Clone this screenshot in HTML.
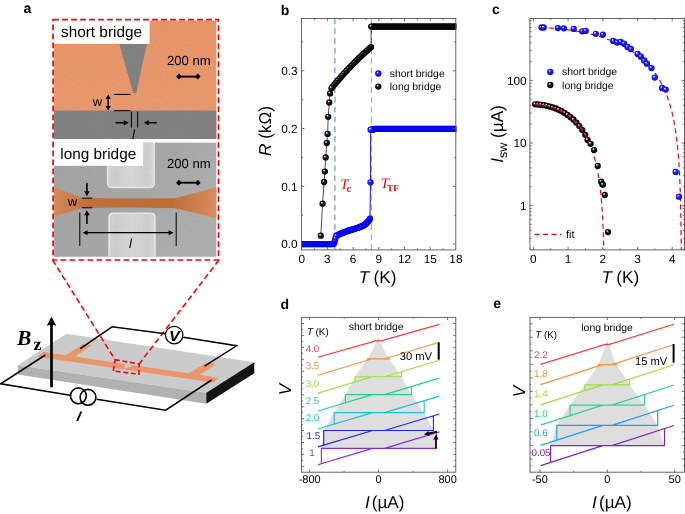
<!DOCTYPE html>
<html lang="en"><head><meta charset="utf-8"><title>Figure 1</title>
<style>
html,body{margin:0;padding:0;background:#fff;}
body{width:685px;height:514px;overflow:hidden;}
svg{display:block;}
text{font-family:'Liberation Sans',Arial,sans-serif;fill:#000;text-rendering:geometricPrecision;}
.ser{font-family:'Liberation Serif','Times New Roman',serif;}
.ax{stroke:#555;stroke-width:0.9;fill:none;}
.tk{stroke:#4a4a4a;stroke-width:0.8;fill:none;}
</style></head><body>
<svg width="685" height="514" viewBox="0 0 685 514">
<defs>
<radialGradient id="gb" cx="0.5" cy="0.5" r="0.5" fx="0.34" fy="0.3"><stop offset="0" stop-color="#ffffff"/><stop offset="0.18" stop-color="#b4b4ff"/><stop offset="0.36" stop-color="#2828ff"/><stop offset="1" stop-color="#0000f0"/></radialGradient>
<radialGradient id="gk" cx="0.5" cy="0.5" r="0.5" fx="0.34" fy="0.3"><stop offset="0" stop-color="#ffffff"/><stop offset="0.18" stop-color="#b0b0b0"/><stop offset="0.4" stop-color="#1c1c1c"/><stop offset="1" stop-color="#000"/></radialGradient>
<circle id="mb" r="3.15" fill="url(#gb)"/>
<circle id="mk" r="3.15" fill="url(#gk)"/>
<filter id="noise" x="0" y="0" width="100%" height="100%"><feTurbulence type="fractalNoise" baseFrequency="0.8" numOctaves="2" seed="3" result="n"/><feColorMatrix in="n" type="matrix" values="0 0 0 0 0  0 0 0 0 0  0 0 0 0 0  0.6 0.6 0 0 -0.42" result="a"/><feComposite in="a" in2="SourceGraphic" operator="in"/></filter>
<filter id="soft" x="-5%" y="-5%" width="110%" height="110%"><feGaussianBlur stdDeviation="0.7"/></filter>
<linearGradient id="gate" x1="0" x2="1" y1="0" y2="0"><stop offset="0" stop-color="#dadada"/><stop offset="0.15" stop-color="#d2d2d2"/><stop offset="0.5" stop-color="#dcdcdc"/><stop offset="0.85" stop-color="#d3d3d3"/><stop offset="1" stop-color="#dcdcdc"/></linearGradient>
<linearGradient id="bgl" x1="0" x2="1" y1="0" y2="0.4"><stop offset="0" stop-color="#a6a6a6"/><stop offset="0.6" stop-color="#ababab"/><stop offset="1" stop-color="#b2b2b2"/></linearGradient>
<linearGradient id="brg" x1="0" x2="1" y1="0" y2="0"><stop offset="0" stop-color="#dc8e5e"/><stop offset="0.22" stop-color="#c4733d"/><stop offset="0.72" stop-color="#c2713b"/><stop offset="1" stop-color="#de9263"/></linearGradient>
<linearGradient id="org" x1="0" x2="0" y1="0" y2="1"><stop offset="0" stop-color="#ec986b"/><stop offset="1" stop-color="#ee9d72"/></linearGradient>
<clipPath id="semclip"><rect x="53.8" y="20.4" width="162.7" height="236.3"/></clipPath>
</defs>
<rect width="685" height="514" fill="#fff"/>

<g id="panel-a">
<text x="23.6" y="13.2" font-size="14.2" font-weight="bold">a</text>
<g clip-path="url(#semclip)">
<rect x="53.6" y="20" width="163" height="119" fill="url(#org)"/>
<rect x="53.6" y="110.5" width="163" height="28.5" fill="#858585"/>
<path d="M119.2 43.8H146.8L136.6 91.5Q134.7 95.5 132.8 91.5Z" fill="#858585"/>
<rect x="53.6" y="142.4" width="163" height="115" fill="url(#bgl)"/>
<g filter="url(#soft)"><path d="M107.6 140H154.2V183Q154.2 187.6 149.5 187.6H112.3Q107.6 187.6 107.6 183Z" fill="url(#gate)" stroke="#ededed" stroke-width="1.5"/>
<path d="M109 260V217.5Q109 213.2 113.5 213.2H150.5Q155 213.2 155 217.5V260Z" fill="url(#gate)" stroke="#ededed" stroke-width="1.5"/></g>
<path d="M53.6 186.9 L81.4 198 L128 198.4 L175.4 198.2 L216.6 186.9 V218 L175.4 208.2 L128 207.6 L81.4 207.9 L53.6 217 Z" fill="url(#brg)"/>
<rect x="53.6" y="20" width="163" height="237" fill="#000" filter="url(#noise)" opacity="0.07"/>
<rect x="53.6" y="20" width="163" height="237" fill="#fff" filter="url(#noise)" opacity="0.08" transform="translate(1.5,1)"/>
<rect x="53.6" y="139" width="163" height="3.4" fill="#fff"/>
</g>
<rect x="53.6" y="20" width="96" height="23.9" fill="#fff"/>
<text x="61" y="37" font-size="15.35">short bridge</text>
<text x="167" y="65.3" font-size="13.1">200 nm</text>
<path d="M178.1 76.6H198.6" stroke="#000" stroke-width="1.9"/><polygon points="176.1,76.6 178.9,73.6 181.7,76.6 178.9,79.6" fill="#000"/><polygon points="200.6,76.6 197.8,73.6 195,76.6 197.8,79.6" fill="#000"/>
<path d="M113.9 94.4H130.4 M113.9 110.7H130.4" stroke="#000" stroke-width="1" fill="none"/>
<path d="M108.2 97V108" stroke="#000" stroke-width="1.6" fill="none"/>
<polygon points="108.2,94.5 110.8,99.1 105.6,99.1" fill="#000"/><polygon points="108.2,110.5 105.6,105.9 110.8,105.9" fill="#000"/>
<text x="92.7" y="106.4" font-size="13">w</text>
<path d="M131.4 111.5V127.6 M137.7 111.5V127.6" stroke="#000" stroke-width="1"/>
<path d="M115.5 122.7H125" stroke="#000" stroke-width="1.6"/><polygon points="128.6,122.7 123.8,125.3 123.8,120.1" fill="#000"/>
<path d="M156.9 122.7H147.5" stroke="#000" stroke-width="1.6"/><polygon points="143.9,122.7 148.7,120.1 148.7,125.3" fill="#000"/>
<text x="132" y="138.9" font-size="13" font-style="italic">l</text>
<rect x="53.6" y="142.4" width="89.5" height="23.4" fill="#fff"/>
<text x="60.3" y="158.9" font-size="15.35">long bridge</text>
<text x="167" y="168.4" font-size="13.1">200 nm</text>
<path d="M178.1 182.7H198.6" stroke="#000" stroke-width="1.9"/><polygon points="176.1,182.7 178.9,179.7 181.7,182.7 178.9,185.7" fill="#000"/><polygon points="200.6,182.7 197.8,179.7 195,182.7 197.8,185.7" fill="#000"/>
<path d="M81.8 198.1H92.3 M81.8 207.8H92.3" stroke="#000" stroke-width="1"/>
<path d="M86.9 183V192" stroke="#000" stroke-width="1.6"/><polygon points="86.9,196.2 84.1,191.2 89.7,191.2" fill="#000"/>
<path d="M86.9 224V215" stroke="#000" stroke-width="1.6"/><polygon points="86.9,210.2 89.7,215.2 84.1,215.2" fill="#000"/>
<text x="67.8" y="206.3" font-size="13">w</text>
<path d="M79.8 212.5V246 M176.2 212.5V246" stroke="#000" stroke-width="1"/>
<path d="M85 232.7H171" stroke="#000" stroke-width="1.2"/>
<polygon points="82.6,232.7 87.6,230.2 87.6,235.2" fill="#000"/><polygon points="173.6,232.7 168.6,235.2 168.6,230.2" fill="#000"/>
<text x="129" y="247.6" font-size="13" font-style="italic">l</text>
<rect x="53.1" y="19.6" width="165.4" height="240.4" fill="none" stroke="#fb0008" stroke-width="1.7" stroke-dasharray="5.8 3.2"/>
</g>
<g id="schematic">
<polygon points="66.4,333.8 254.3,362.3 206.3,392.7 17.8,365.2" fill="#cbcbcb"/>
<polygon points="17.8,365.2 206.3,392.7 206.3,403.7 17.8,374.4" fill="#b1b1b1"/>
<polygon points="206.3,392.7 254.3,362.3 254.3,373.2 206.3,403.7" fill="#141414"/>
<polygon points="43.8,352.11 218.6,377.64 213.8,382.53 37.2,356.75" fill="#e8966a"/>
<polygon points="65,355.51 83.2,343.9 92,345 74.5,356.9" fill="#e8966a"/>
<polygon points="188.5,373.54 206.4,362.8 216.2,364 199.4,375.13" fill="#e8966a"/>
<polygon points="125.5,363.74 134.2,365.01 124.6,369.01 124,368.72" fill="#cbcbcb"/>
<path d="M52.6 260 L115 359.6 M219 260 L139.1 364" stroke="#fb0008" stroke-width="1.6" stroke-dasharray="5.8 3.2" fill="none"/>
<path d="M115 359.6 L139.1 364 L139 374.2 L113.3 371 Z" fill="none" stroke="#fb0008" stroke-width="1.6" stroke-dasharray="5 2.6"/>
<path d="M45.3 355 L0.7 383.8 L70.2 395.2 M96.6 399.3 L165.7 410.2 L211.6 380" stroke="#000" stroke-width="1.55" fill="none" stroke-linejoin="miter"/>
<path d="M80.3 348.7 L112.1 326.8 L165.4 333.8 M183.2 337.2 L236.6 345.8 L204.5 366.2" stroke="#000" stroke-width="1.55" fill="none"/>
<circle cx="174.2" cy="335.1" r="8.7" fill="#fff" stroke="#000" stroke-width="1.2"/>
<text transform="translate(174.4,340.9) scale(1.1,1)" font-size="14.6" font-weight="bold" font-style="italic" text-anchor="middle">V</text>
<circle cx="78.4" cy="395.8" r="7.9" fill="#fff" stroke="#000" stroke-width="1.6"/>
<circle cx="88" cy="397.3" r="7.9" fill="none" stroke="#000" stroke-width="1.6"/>
<text transform="translate(75.3,420.6) skewX(-23)" font-size="14" font-weight="bold">I</text>
<path d="M51.5 387.3V324" stroke="#000" stroke-width="2.7"/>
<path d="M51.5 316.7 L56.3 325.8 Q51.5 323.6 46.7 325.8 Z" fill="#000"/>
<text class="ser" x="17" y="345" font-size="21.5" font-weight="bold" font-style="italic">B</text>
<text class="ser" x="33.4" y="349.7" font-size="18" font-weight="bold">z</text>
</g>
<g id="panel-b">
<text x="280.8" y="15" font-size="14" font-weight="bold">b</text>
<clipPath id="cb"><rect x="301.5" y="16.5" width="154.7" height="235.4"/></clipPath>
<path d="M334.9 18.5V249.9" stroke="#6499d6" stroke-width="1.2" stroke-dasharray="5.8 4" fill="none"/>
<path d="M371.4 18.5V249.9" stroke="#4a90d9" stroke-width="0.75" stroke-dasharray="5.8 4" fill="none"/>
<g clip-path="url(#cb)">
<polyline points="320.8,235.7 322.6,203.7 324.1,182 324.9,171.6 325.7,157.4 326.8,143 327.6,133.9 328.2,116.8 329.3,102.4 330.1,93.4 331.5,88.2 333.02,86.35 334.54,84.52 336.06,82.72 337.58,80.93 339.1,79.17 340.62,77.43 342.13,75.71 343.65,74.01 345.17,72.34 346.69,70.68 348.21,69.05 349.73,67.44 351.25,65.86 352.77,64.29 354.29,62.74 355.81,61.22 357.33,59.72 358.85,58.24 360.37,56.79 361.88,55.35 363.4,53.94 364.92,52.55 366.44,51.18 367.96,49.83 369.48,48.5 371,47.2 371.2,26.6 372.2,26.6 373.2,26.6 374.2,26.6 375.2,26.6 376.2,26.6 377.2,26.6 378.2,26.6 379.2,26.6 380.2,26.6 381.2,26.6 382.2,26.6 383.2,26.6 384.2,26.6 385.2,26.6 386.2,26.6 387.2,26.6 388.2,26.6 389.2,26.6 390.2,26.6 391.2,26.6 392.2,26.6 393.2,26.6 394.2,26.6 395.2,26.6 396.2,26.6 397.2,26.6 398.2,26.6 399.2,26.6 400.2,26.6 401.2,26.6 402.2,26.6 403.2,26.6 404.2,26.6 405.2,26.6 406.2,26.6 407.2,26.6 408.2,26.6 409.2,26.6 410.2,26.6 411.2,26.6 412.2,26.6 413.2,26.6 414.2,26.6 415.2,26.6 416.2,26.6 417.2,26.6 418.2,26.6 419.2,26.6 420.2,26.6 421.2,26.6 422.2,26.6 423.2,26.6 424.2,26.6 425.2,26.6 426.2,26.6 427.2,26.6 428.2,26.6 429.2,26.6 430.2,26.6 431.2,26.6 432.2,26.6 433.2,26.6 434.2,26.6 435.2,26.6 436.2,26.6 437.2,26.6 438.2,26.6 439.2,26.6 440.2,26.6 441.2,26.6 442.2,26.6 443.2,26.6 444.2,26.6 445.2,26.6 446.2,26.6 447.2,26.6 448.2,26.6 449.2,26.6 450.2,26.6 451.2,26.6 452.2,26.6 453.2,26.6 454.2,26.6 455.2,26.6 456.2,26.6 457.2,26.6" fill="none" stroke="#000" stroke-width="0.7"/>
<polyline points="299,244.1 299.9,244.1 300.8,244.1 301.7,244.1 302.6,244.1 303.5,244.1 304.4,244.1 305.3,244.1 306.2,244.1 307.1,244.1 308,244.1 308.9,244.1 309.8,244.1 310.7,244.1 311.6,244.1 312.5,244.1 313.4,244.1 314.3,244.1 315.2,244.1 316.1,244.1 317,244.1 317.9,244.1 318.8,244.1 319.7,244.1 320.6,244.1 321.5,244.1 322.4,244.1 323.3,244.1 324.2,244.1 325.1,244.1 326,244.1 326.9,244.1 327.8,244.1 328.7,244.1 329.6,244.1 330.5,244.1 331.4,244.1 332.3,244.1 333.2,244.1 334,243.4 334.7,241.6 335.3,239 336.1,236.2 336.87,235.52 337.64,235.06 338.41,234.65 339.18,234.28 339.95,233.93 340.72,233.6 341.49,233.28 342.26,232.97 343.03,232.67 343.8,232.38 344.58,232.1 345.35,231.82 346.12,231.55 346.89,231.29 347.66,231.02 348.43,230.77 349.2,230.51 349.97,230.26 350.74,230.02 351.51,229.77 352.28,229.53 353.05,229.29 353.82,229.05 354.59,228.81 355.36,228.57 356.13,228.33 356.9,228.08 357.67,227.83 358.44,227.57 359.21,227.31 359.98,227.02 360.75,226.72 361.52,226.4 362.3,226.05 363.07,225.66 363.84,225.23 364.61,224.75 365.38,224.2 366.15,223.58 366.92,222.86 367.69,222.02 368.46,221.05 369.23,219.92 370,218.6 370.5,182.3 370.6,129.7 371.5,129.7 372.4,129.7 373.3,129.7 374.2,128.9 375.1,128.9 376,128.9 376.9,128.9 377.8,128.9 378.7,128.9 379.6,128.9 380.5,128.9 381.4,128.9 382.3,128.9 383.2,128.9 384.1,128.9 385,128.9 385.9,128.9 386.8,128.9 387.7,128.9 388.6,128.9 389.5,128.9 390.4,128.9 391.3,128.9 392.2,128.9 393.1,128.9 394,128.9 394.9,128.9 395.8,128.9 396.7,128.9 397.6,128.9 398.5,128.9 399.4,128.9 400.3,128.9 401.2,128.9 402.1,128.9 403,128.9 403.9,128.9 404.8,128.9 405.7,128.9 406.6,128.9 407.5,128.9 408.4,128.9 409.3,128.9 410.2,128.9 411.1,128.9 412,128.9 412.9,128.9 413.8,128.9 414.7,128.9 415.6,128.9 416.5,128.9 417.4,128.9 418.3,128.9 419.2,128.9 420.1,128.9 421,128.9 421.9,128.9 422.8,128.9 423.7,128.9 424.6,128.9 425.5,128.9 426.4,128.9 427.3,128.9 428.2,128.9 429.1,128.9 430,128.9 430.9,128.9 431.8,128.9 432.7,128.9 433.6,128.9 434.5,128.9 435.4,128.9 436.3,128.9 437.2,128.9 438.1,128.9 439,128.9 439.9,128.9 440.8,128.9 441.7,128.9 442.6,128.9 443.5,128.9 444.4,128.9 445.3,128.9 446.2,128.9 447.1,128.9 448,128.9 448.9,128.9 449.8,128.9 450.7,128.9 451.6,128.9 452.5,128.9 453.4,128.9 454.3,128.9 455.2,128.9 456.1,128.9 457,128.9 457.9,128.9" fill="none" stroke="#2a2aff" stroke-width="1.1"/>
<g><use href="#mk" x="457.2" y="26.6"/><use href="#mk" x="456.2" y="26.6"/><use href="#mk" x="455.2" y="26.6"/><use href="#mk" x="454.2" y="26.6"/><use href="#mk" x="453.2" y="26.6"/><use href="#mk" x="452.2" y="26.6"/><use href="#mk" x="451.2" y="26.6"/><use href="#mk" x="450.2" y="26.6"/><use href="#mk" x="449.2" y="26.6"/><use href="#mk" x="448.2" y="26.6"/><use href="#mk" x="447.2" y="26.6"/><use href="#mk" x="446.2" y="26.6"/><use href="#mk" x="445.2" y="26.6"/><use href="#mk" x="444.2" y="26.6"/><use href="#mk" x="443.2" y="26.6"/><use href="#mk" x="442.2" y="26.6"/><use href="#mk" x="441.2" y="26.6"/><use href="#mk" x="440.2" y="26.6"/><use href="#mk" x="439.2" y="26.6"/><use href="#mk" x="438.2" y="26.6"/><use href="#mk" x="437.2" y="26.6"/><use href="#mk" x="436.2" y="26.6"/><use href="#mk" x="435.2" y="26.6"/><use href="#mk" x="434.2" y="26.6"/><use href="#mk" x="433.2" y="26.6"/><use href="#mk" x="432.2" y="26.6"/><use href="#mk" x="431.2" y="26.6"/><use href="#mk" x="430.2" y="26.6"/><use href="#mk" x="429.2" y="26.6"/><use href="#mk" x="428.2" y="26.6"/><use href="#mk" x="427.2" y="26.6"/><use href="#mk" x="426.2" y="26.6"/><use href="#mk" x="425.2" y="26.6"/><use href="#mk" x="424.2" y="26.6"/><use href="#mk" x="423.2" y="26.6"/><use href="#mk" x="422.2" y="26.6"/><use href="#mk" x="421.2" y="26.6"/><use href="#mk" x="420.2" y="26.6"/><use href="#mk" x="419.2" y="26.6"/><use href="#mk" x="418.2" y="26.6"/><use href="#mk" x="417.2" y="26.6"/><use href="#mk" x="416.2" y="26.6"/><use href="#mk" x="415.2" y="26.6"/><use href="#mk" x="414.2" y="26.6"/><use href="#mk" x="413.2" y="26.6"/><use href="#mk" x="412.2" y="26.6"/><use href="#mk" x="411.2" y="26.6"/><use href="#mk" x="410.2" y="26.6"/><use href="#mk" x="409.2" y="26.6"/><use href="#mk" x="408.2" y="26.6"/><use href="#mk" x="407.2" y="26.6"/><use href="#mk" x="406.2" y="26.6"/><use href="#mk" x="405.2" y="26.6"/><use href="#mk" x="404.2" y="26.6"/><use href="#mk" x="403.2" y="26.6"/><use href="#mk" x="402.2" y="26.6"/><use href="#mk" x="401.2" y="26.6"/><use href="#mk" x="400.2" y="26.6"/><use href="#mk" x="399.2" y="26.6"/><use href="#mk" x="398.2" y="26.6"/><use href="#mk" x="397.2" y="26.6"/><use href="#mk" x="396.2" y="26.6"/><use href="#mk" x="395.2" y="26.6"/><use href="#mk" x="394.2" y="26.6"/><use href="#mk" x="393.2" y="26.6"/><use href="#mk" x="392.2" y="26.6"/><use href="#mk" x="391.2" y="26.6"/><use href="#mk" x="390.2" y="26.6"/><use href="#mk" x="389.2" y="26.6"/><use href="#mk" x="388.2" y="26.6"/><use href="#mk" x="387.2" y="26.6"/><use href="#mk" x="386.2" y="26.6"/><use href="#mk" x="385.2" y="26.6"/><use href="#mk" x="384.2" y="26.6"/><use href="#mk" x="383.2" y="26.6"/><use href="#mk" x="382.2" y="26.6"/><use href="#mk" x="381.2" y="26.6"/><use href="#mk" x="380.2" y="26.6"/><use href="#mk" x="379.2" y="26.6"/><use href="#mk" x="378.2" y="26.6"/><use href="#mk" x="377.2" y="26.6"/><use href="#mk" x="376.2" y="26.6"/><use href="#mk" x="375.2" y="26.6"/><use href="#mk" x="374.2" y="26.6"/><use href="#mk" x="373.2" y="26.6"/><use href="#mk" x="372.2" y="26.6"/><use href="#mk" x="371.2" y="26.6"/><use href="#mk" x="371" y="47.2"/><use href="#mk" x="369.48" y="48.5"/><use href="#mk" x="367.96" y="49.83"/><use href="#mk" x="366.44" y="51.18"/><use href="#mk" x="364.92" y="52.55"/><use href="#mk" x="363.4" y="53.94"/><use href="#mk" x="361.88" y="55.35"/><use href="#mk" x="360.37" y="56.79"/><use href="#mk" x="358.85" y="58.24"/><use href="#mk" x="357.33" y="59.72"/><use href="#mk" x="355.81" y="61.22"/><use href="#mk" x="354.29" y="62.74"/><use href="#mk" x="352.77" y="64.29"/><use href="#mk" x="351.25" y="65.86"/><use href="#mk" x="349.73" y="67.44"/><use href="#mk" x="348.21" y="69.05"/><use href="#mk" x="346.69" y="70.68"/><use href="#mk" x="345.17" y="72.34"/><use href="#mk" x="343.65" y="74.01"/><use href="#mk" x="342.13" y="75.71"/><use href="#mk" x="340.62" y="77.43"/><use href="#mk" x="339.1" y="79.17"/><use href="#mk" x="337.58" y="80.93"/><use href="#mk" x="336.06" y="82.72"/><use href="#mk" x="334.54" y="84.52"/><use href="#mk" x="333.02" y="86.35"/><use href="#mk" x="331.5" y="88.2"/><use href="#mk" x="330.1" y="93.4"/><use href="#mk" x="329.3" y="102.4"/><use href="#mk" x="328.2" y="116.8"/><use href="#mk" x="327.6" y="133.9"/><use href="#mk" x="326.8" y="143"/><use href="#mk" x="325.7" y="157.4"/><use href="#mk" x="324.9" y="171.6"/><use href="#mk" x="324.1" y="182"/><use href="#mk" x="322.6" y="203.7"/><use href="#mk" x="320.8" y="235.7"/></g>
<g><use href="#mb" x="457.9" y="128.9"/><use href="#mb" x="457" y="128.9"/><use href="#mb" x="456.1" y="128.9"/><use href="#mb" x="455.2" y="128.9"/><use href="#mb" x="454.3" y="128.9"/><use href="#mb" x="453.4" y="128.9"/><use href="#mb" x="452.5" y="128.9"/><use href="#mb" x="451.6" y="128.9"/><use href="#mb" x="450.7" y="128.9"/><use href="#mb" x="449.8" y="128.9"/><use href="#mb" x="448.9" y="128.9"/><use href="#mb" x="448" y="128.9"/><use href="#mb" x="447.1" y="128.9"/><use href="#mb" x="446.2" y="128.9"/><use href="#mb" x="445.3" y="128.9"/><use href="#mb" x="444.4" y="128.9"/><use href="#mb" x="443.5" y="128.9"/><use href="#mb" x="442.6" y="128.9"/><use href="#mb" x="441.7" y="128.9"/><use href="#mb" x="440.8" y="128.9"/><use href="#mb" x="439.9" y="128.9"/><use href="#mb" x="439" y="128.9"/><use href="#mb" x="438.1" y="128.9"/><use href="#mb" x="437.2" y="128.9"/><use href="#mb" x="436.3" y="128.9"/><use href="#mb" x="435.4" y="128.9"/><use href="#mb" x="434.5" y="128.9"/><use href="#mb" x="433.6" y="128.9"/><use href="#mb" x="432.7" y="128.9"/><use href="#mb" x="431.8" y="128.9"/><use href="#mb" x="430.9" y="128.9"/><use href="#mb" x="430" y="128.9"/><use href="#mb" x="429.1" y="128.9"/><use href="#mb" x="428.2" y="128.9"/><use href="#mb" x="427.3" y="128.9"/><use href="#mb" x="426.4" y="128.9"/><use href="#mb" x="425.5" y="128.9"/><use href="#mb" x="424.6" y="128.9"/><use href="#mb" x="423.7" y="128.9"/><use href="#mb" x="422.8" y="128.9"/><use href="#mb" x="421.9" y="128.9"/><use href="#mb" x="421" y="128.9"/><use href="#mb" x="420.1" y="128.9"/><use href="#mb" x="419.2" y="128.9"/><use href="#mb" x="418.3" y="128.9"/><use href="#mb" x="417.4" y="128.9"/><use href="#mb" x="416.5" y="128.9"/><use href="#mb" x="415.6" y="128.9"/><use href="#mb" x="414.7" y="128.9"/><use href="#mb" x="413.8" y="128.9"/><use href="#mb" x="412.9" y="128.9"/><use href="#mb" x="412" y="128.9"/><use href="#mb" x="411.1" y="128.9"/><use href="#mb" x="410.2" y="128.9"/><use href="#mb" x="409.3" y="128.9"/><use href="#mb" x="408.4" y="128.9"/><use href="#mb" x="407.5" y="128.9"/><use href="#mb" x="406.6" y="128.9"/><use href="#mb" x="405.7" y="128.9"/><use href="#mb" x="404.8" y="128.9"/><use href="#mb" x="403.9" y="128.9"/><use href="#mb" x="403" y="128.9"/><use href="#mb" x="402.1" y="128.9"/><use href="#mb" x="401.2" y="128.9"/><use href="#mb" x="400.3" y="128.9"/><use href="#mb" x="399.4" y="128.9"/><use href="#mb" x="398.5" y="128.9"/><use href="#mb" x="397.6" y="128.9"/><use href="#mb" x="396.7" y="128.9"/><use href="#mb" x="395.8" y="128.9"/><use href="#mb" x="394.9" y="128.9"/><use href="#mb" x="394" y="128.9"/><use href="#mb" x="393.1" y="128.9"/><use href="#mb" x="392.2" y="128.9"/><use href="#mb" x="391.3" y="128.9"/><use href="#mb" x="390.4" y="128.9"/><use href="#mb" x="389.5" y="128.9"/><use href="#mb" x="388.6" y="128.9"/><use href="#mb" x="387.7" y="128.9"/><use href="#mb" x="386.8" y="128.9"/><use href="#mb" x="385.9" y="128.9"/><use href="#mb" x="385" y="128.9"/><use href="#mb" x="384.1" y="128.9"/><use href="#mb" x="383.2" y="128.9"/><use href="#mb" x="382.3" y="128.9"/><use href="#mb" x="381.4" y="128.9"/><use href="#mb" x="380.5" y="128.9"/><use href="#mb" x="379.6" y="128.9"/><use href="#mb" x="378.7" y="128.9"/><use href="#mb" x="377.8" y="128.9"/><use href="#mb" x="376.9" y="128.9"/><use href="#mb" x="376" y="128.9"/><use href="#mb" x="375.1" y="128.9"/><use href="#mb" x="374.2" y="128.9"/><use href="#mb" x="373.3" y="129.7"/><use href="#mb" x="372.4" y="129.7"/><use href="#mb" x="371.5" y="129.7"/><use href="#mb" x="370.6" y="129.7"/><use href="#mb" x="370.5" y="182.3"/><use href="#mb" x="370" y="218.6"/><use href="#mb" x="369.23" y="219.92"/><use href="#mb" x="368.46" y="221.05"/><use href="#mb" x="367.69" y="222.02"/><use href="#mb" x="366.92" y="222.86"/><use href="#mb" x="366.15" y="223.58"/><use href="#mb" x="365.38" y="224.2"/><use href="#mb" x="364.61" y="224.75"/><use href="#mb" x="363.84" y="225.23"/><use href="#mb" x="363.07" y="225.66"/><use href="#mb" x="362.3" y="226.05"/><use href="#mb" x="361.52" y="226.4"/><use href="#mb" x="360.75" y="226.72"/><use href="#mb" x="359.98" y="227.02"/><use href="#mb" x="359.21" y="227.31"/><use href="#mb" x="358.44" y="227.57"/><use href="#mb" x="357.67" y="227.83"/><use href="#mb" x="356.9" y="228.08"/><use href="#mb" x="356.13" y="228.33"/><use href="#mb" x="355.36" y="228.57"/><use href="#mb" x="354.59" y="228.81"/><use href="#mb" x="353.82" y="229.05"/><use href="#mb" x="353.05" y="229.29"/><use href="#mb" x="352.28" y="229.53"/><use href="#mb" x="351.51" y="229.77"/><use href="#mb" x="350.74" y="230.02"/><use href="#mb" x="349.97" y="230.26"/><use href="#mb" x="349.2" y="230.51"/><use href="#mb" x="348.43" y="230.77"/><use href="#mb" x="347.66" y="231.02"/><use href="#mb" x="346.89" y="231.29"/><use href="#mb" x="346.12" y="231.55"/><use href="#mb" x="345.35" y="231.82"/><use href="#mb" x="344.58" y="232.1"/><use href="#mb" x="343.8" y="232.38"/><use href="#mb" x="343.03" y="232.67"/><use href="#mb" x="342.26" y="232.97"/><use href="#mb" x="341.49" y="233.28"/><use href="#mb" x="340.72" y="233.6"/><use href="#mb" x="339.95" y="233.93"/><use href="#mb" x="339.18" y="234.28"/><use href="#mb" x="338.41" y="234.65"/><use href="#mb" x="337.64" y="235.06"/><use href="#mb" x="336.87" y="235.52"/><use href="#mb" x="336.1" y="236.2"/><use href="#mb" x="335.3" y="239"/><use href="#mb" x="334.7" y="241.6"/><use href="#mb" x="334" y="243.4"/><use href="#mb" x="333.2" y="244.1"/><use href="#mb" x="332.3" y="244.1"/><use href="#mb" x="331.4" y="244.1"/><use href="#mb" x="330.5" y="244.1"/><use href="#mb" x="329.6" y="244.1"/><use href="#mb" x="328.7" y="244.1"/><use href="#mb" x="327.8" y="244.1"/><use href="#mb" x="326.9" y="244.1"/><use href="#mb" x="326" y="244.1"/><use href="#mb" x="325.1" y="244.1"/><use href="#mb" x="324.2" y="244.1"/><use href="#mb" x="323.3" y="244.1"/><use href="#mb" x="322.4" y="244.1"/><use href="#mb" x="321.5" y="244.1"/><use href="#mb" x="320.6" y="244.1"/><use href="#mb" x="319.7" y="244.1"/><use href="#mb" x="318.8" y="244.1"/><use href="#mb" x="317.9" y="244.1"/><use href="#mb" x="317" y="244.1"/><use href="#mb" x="316.1" y="244.1"/><use href="#mb" x="315.2" y="244.1"/><use href="#mb" x="314.3" y="244.1"/><use href="#mb" x="313.4" y="244.1"/><use href="#mb" x="312.5" y="244.1"/><use href="#mb" x="311.6" y="244.1"/><use href="#mb" x="310.7" y="244.1"/><use href="#mb" x="309.8" y="244.1"/><use href="#mb" x="308.9" y="244.1"/><use href="#mb" x="308" y="244.1"/><use href="#mb" x="307.1" y="244.1"/><use href="#mb" x="306.2" y="244.1"/><use href="#mb" x="305.3" y="244.1"/><use href="#mb" x="304.4" y="244.1"/><use href="#mb" x="303.5" y="244.1"/><use href="#mb" x="302.6" y="244.1"/><use href="#mb" x="301.7" y="244.1"/><use href="#mb" x="300.8" y="244.1"/><use href="#mb" x="299.9" y="244.1"/><use href="#mb" x="299" y="244.1"/></g>
</g>
<rect class="ax" x="301.5" y="18.5" width="154.3" height="231.4"/>
<path class="tk" d="M327.4 249.9v-2.9M327.4 18.5v2.9M353.1 249.9v-2.9M353.1 18.5v2.9M378.8 249.9v-2.9M378.8 18.5v2.9M404.5 249.9v-2.9M404.5 18.5v2.9M430.2 249.9v-2.9M430.2 18.5v2.9M314.55 249.9v-1.6M314.55 18.5v1.6M340.25 249.9v-1.6M340.25 18.5v1.6M365.95 249.9v-1.6M365.95 18.5v1.6M391.65 249.9v-1.6M391.65 18.5v1.6M417.35 249.9v-1.6M417.35 18.5v1.6M443.06 249.9v-1.6M443.06 18.5v1.6M301.5 244.1h2.9M455.8 244.1h-2.9M301.5 186.3h2.9M455.8 186.3h-2.9M301.5 128.5h2.9M455.8 128.5h-2.9M301.5 70.7h2.9M455.8 70.7h-2.9M301.5 215.2h1.6M455.8 215.2h-1.6M301.5 157.4h1.6M455.8 157.4h-1.6M301.5 99.6h1.6M455.8 99.6h-1.6M301.5 41.8h1.6M455.8 41.8h-1.6"/>
<text x="301.7" y="262.8" font-size="11.8" text-anchor="middle">0</text>
<text x="327.4" y="262.8" font-size="11.8" text-anchor="middle">3</text>
<text x="353.1" y="262.8" font-size="11.8" text-anchor="middle">6</text>
<text x="378.8" y="262.8" font-size="11.8" text-anchor="middle">9</text>
<text x="404.5" y="262.8" font-size="11.8" text-anchor="middle">12</text>
<text x="430.2" y="262.8" font-size="11.8" text-anchor="middle">15</text>
<text x="455.91" y="262.8" font-size="11.8" text-anchor="middle">18</text>
<text x="297.6" y="248.3" font-size="11.8" text-anchor="end">0.0</text>
<text x="297.6" y="190.5" font-size="11.8" text-anchor="end">0.1</text>
<text x="297.6" y="132.7" font-size="11.8" text-anchor="end">0.2</text>
<text x="297.6" y="74.9" font-size="11.8" text-anchor="end">0.3</text>
<text x="377.6" y="283" font-size="17.2" text-anchor="middle"><tspan font-style="italic">T</tspan><tspan dx="-0.5"> (K)</tspan></text>
<text transform="translate(270.9,131) rotate(-90)" font-size="17.2" text-anchor="middle"><tspan font-style="italic">R</tspan> (kΩ)</text>
<use href="#mb" x="378.3" y="73.5"/><use href="#mk" x="378.3" y="86.6"/>
<text x="389.8" y="77.1" font-size="10.4">short bridge</text>
<text x="389.8" y="90" font-size="10.4">long bridge</text>
<text class="ser" x="340.3" y="188.6" font-size="14.5" font-style="italic" style="fill:#fb0008">T<tspan font-style="normal" font-weight="bold" font-size="10.5" dx="-2" dy="3.2">c</tspan></text>
<text class="ser" x="380.7" y="187.6" font-size="14.5" font-style="italic" style="fill:#fb0008">T<tspan font-style="normal" font-weight="bold" font-size="9.3" dx="-1.8" dy="3.7">TF</tspan></text>
</g>
<g id="panel-c">
<text x="492" y="13.8" font-size="14" font-weight="bold">c</text>
<clipPath id="cc"><rect x="529.9" y="18.5" width="154.6" height="231.4"/></clipPath>
<polyline clip-path="url(#cc)" points="540.34,27.59 540.69,27.6 541.03,27.61 541.38,27.62 541.73,27.63 542.07,27.64 542.42,27.65 542.77,27.66 543.12,27.67 543.46,27.69 543.81,27.7 544.16,27.71 544.5,27.73 544.85,27.74 545.2,27.76 545.54,27.77 545.89,27.79 546.24,27.8 546.59,27.82 546.93,27.84 547.28,27.86 547.63,27.87 547.97,27.89 548.32,27.91 548.67,27.93 549.01,27.95 549.36,27.97 549.71,27.99 550.06,28.02 550.4,28.04 550.75,28.06 551.1,28.08 551.44,28.11 551.79,28.13 552.14,28.15 552.49,28.18 552.83,28.2 553.18,28.23 553.53,28.26 553.87,28.28 554.22,28.31 554.57,28.34 554.91,28.37 555.26,28.39 555.61,28.42 555.96,28.45 556.3,28.48 556.65,28.51 557,28.54 557.34,28.58 557.69,28.61 558.04,28.64 558.38,28.67 558.73,28.71 559.08,28.74 559.42,28.77 559.77,28.81 560.12,28.85 560.47,28.88 560.81,28.92 561.16,28.95 561.51,28.99 561.85,29.03 562.2,29.07 562.55,29.11 562.89,29.15 563.24,29.19 563.59,29.23 563.94,29.27 564.28,29.31 564.63,29.35 564.98,29.39 565.32,29.44 565.67,29.48 566.02,29.52 566.37,29.57 566.71,29.61 567.06,29.66 567.41,29.7 567.75,29.75 568.1,29.8 568.45,29.84 568.79,29.89 569.14,29.94 569.49,29.99 569.84,30.04 570.18,30.09 570.53,30.14 570.88,30.19 571.22,30.24 571.57,30.3 571.92,30.35 572.26,30.4 572.61,30.46 572.96,30.51 573.31,30.57 573.65,30.62 574,30.68 574.35,30.74 574.69,30.79 575.04,30.85 575.39,30.91 575.73,30.97 576.08,31.03 576.43,31.09 576.77,31.15 577.12,31.21 577.47,31.27 577.82,31.34 578.16,31.4 578.51,31.46 578.86,31.53 579.2,31.59 579.55,31.66 579.9,31.72 580.25,31.79 580.59,31.86 580.94,31.93 581.29,32 581.63,32.06 581.98,32.13 582.33,32.21 582.67,32.28 583.02,32.35 583.37,32.42 583.72,32.49 584.06,32.57 584.41,32.64 584.76,32.72 585.1,32.79 585.45,32.87 585.8,32.94 586.14,33.02 586.49,33.1 586.84,33.18 587.19,33.26 587.53,33.34 587.88,33.42 588.23,33.5 588.57,33.58 588.92,33.67 589.27,33.75 589.61,33.83 589.96,33.92 590.31,34.01 590.65,34.09 591,34.18 591.35,34.27 591.7,34.36 592.04,34.44 592.39,34.53 592.74,34.63 593.08,34.72 593.43,34.81 593.78,34.9 594.12,35 594.47,35.09 594.82,35.19 595.17,35.28 595.51,35.38 595.86,35.48 596.21,35.57 596.55,35.67 596.9,35.77 597.25,35.87 597.6,35.97 597.94,36.08 598.29,36.18 598.64,36.28 598.98,36.39 599.33,36.49 599.68,36.6 600.02,36.71 600.37,36.82 600.72,36.93 601.07,37.03 601.41,37.15 601.76,37.26 602.11,37.37 602.45,37.48 602.8,37.6 603.15,37.71 603.49,37.83 603.84,37.94 604.19,38.06 604.53,38.18 604.88,38.3 605.23,38.42 605.58,38.54 605.92,38.67 606.27,38.79 606.62,38.91 606.96,39.04 607.31,39.17 607.66,39.29 608,39.42 608.35,39.55 608.7,39.68 609.05,39.81 609.39,39.94 609.74,40.08 610.09,40.21 610.43,40.35 610.78,40.48 611.13,40.62 611.47,40.76 611.82,40.9 612.17,41.04 612.52,41.18 612.86,41.33 613.21,41.47 613.56,41.62 613.9,41.76 614.25,41.91 614.6,42.06 614.94,42.21 615.29,42.36 615.64,42.51 615.99,42.67 616.33,42.82 616.68,42.98 617.03,43.14 617.37,43.3 617.72,43.46 618.07,43.62 618.41,43.78 618.76,43.94 619.11,44.11 619.46,44.28 619.8,44.44 620.15,44.61 620.5,44.79 620.84,44.96 621.19,45.13 621.54,45.31 621.88,45.48 622.23,45.66 622.58,45.84 622.93,46.02 623.27,46.2 623.62,46.39 623.97,46.57 624.31,46.76 624.66,46.95 625.01,47.14 625.35,47.33 625.7,47.53 626.05,47.72 626.4,47.92 626.74,48.12 627.09,48.32 627.44,48.52 627.78,48.72 628.13,48.93 628.48,49.14 628.82,49.35 629.17,49.56 629.52,49.77 629.87,49.98 630.21,50.2 630.56,50.42 630.91,50.64 631.25,50.86 631.6,51.09 631.95,51.31 632.29,51.54 632.64,51.77 632.99,52.01 633.34,52.24 633.68,52.48 634.03,52.72 634.38,52.96 634.72,53.21 635.07,53.45 635.42,53.7 635.76,53.95 636.11,54.21 636.46,54.46 636.81,54.72 637.15,54.98 637.5,55.25 637.85,55.51 638.19,55.78 638.54,56.05 638.89,56.33 639.23,56.6 639.58,56.88 639.93,57.17 640.28,57.45 640.62,57.74 640.97,58.03 641.32,58.33 641.66,58.63 642.01,58.93 642.36,59.23 642.7,59.54 643.05,59.85 643.4,60.16 643.75,60.48 644.09,60.8 644.44,61.13 644.79,61.46 645.13,61.79 645.48,62.12 645.83,62.46 646.17,62.81 646.52,63.15 646.87,63.51 647.22,63.86 647.56,64.22 647.91,64.59 648.26,64.96 648.6,65.33 648.95,65.71 649.3,66.09 649.64,66.48 649.99,66.87 650.34,67.27 650.69,67.67 651.03,68.08 651.38,68.49 651.73,68.91 652.07,69.33 652.42,69.76 652.77,70.2 653.11,70.64 653.46,71.08 653.81,71.54 654.16,72 654.5,72.47 654.85,72.94 655.2,73.42 655.54,73.91 655.89,74.4 656.24,74.91 656.58,75.42 656.93,75.93 657.28,76.46 657.63,77 657.97,77.54 658.32,78.09 658.67,78.65 659.01,79.22 659.36,79.8 659.71,80.39 660.05,81 660.4,81.61 660.75,82.23 661.1,82.86 661.44,83.51 661.79,84.17 662.14,84.84 662.48,85.52 662.83,86.22 663.18,86.93 663.52,87.66 663.87,88.4 664.22,89.15 664.57,89.93 664.91,90.72 665.26,91.53 665.61,92.35 665.95,93.2 666.3,94.06 666.65,94.95 666.99,95.86 667.34,96.79 667.69,97.75 668.04,98.73 668.38,99.74 668.73,100.78 669.08,101.85 669.42,102.95 669.77,104.08 670.12,105.25 670.46,106.45 670.81,107.7 671.16,108.98 671.51,110.32 671.85,111.7 672.2,113.13 672.55,114.62 672.89,116.17 673.24,117.79 673.59,119.47 673.93,121.24 674.28,123.09 674.63,125.03 674.98,127.07 675.32,129.23 675.67,131.51 676.02,133.93 676.36,136.52 676.71,139.28 677.06,142.25 677.4,145.47 677.75,148.97 678.1,152.81 678.45,157.06 678.79,161.81 679.14,167.21 679.49,173.45 679.83,180.83 680.18,189.89 680.53,201.57 680.87,218.06 681.22,246.28 681.57,257.18" fill="none" stroke="#fb0008" stroke-width="1.2" stroke-dasharray="5 3.5"/>
<polyline clip-path="url(#cc)" points="535.13,104.33 535.48,104.34 535.83,104.36 536.18,104.37 536.52,104.39 536.87,104.41 537.22,104.43 537.56,104.45 537.91,104.47 538.26,104.5 538.61,104.53 538.95,104.56 539.3,104.59 539.65,104.62 539.99,104.66 540.34,104.7 540.69,104.74 541.03,104.78 541.38,104.82 541.73,104.87 542.07,104.92 542.42,104.97 542.77,105.02 543.12,105.07 543.46,105.13 543.81,105.18 544.16,105.24 544.5,105.31 544.85,105.37 545.2,105.44 545.54,105.5 545.89,105.58 546.24,105.65 546.59,105.72 546.93,105.8 547.28,105.88 547.63,105.96 547.97,106.04 548.32,106.13 548.67,106.21 549.01,106.3 549.36,106.4 549.71,106.49 550.06,106.59 550.4,106.69 550.75,106.79 551.1,106.89 551.44,107 551.79,107.1 552.14,107.21 552.49,107.33 552.83,107.44 553.18,107.56 553.53,107.68 553.87,107.8 554.22,107.93 554.57,108.05 554.91,108.18 555.26,108.31 555.61,108.45 555.96,108.59 556.3,108.73 556.65,108.87 557,109.02 557.34,109.16 557.69,109.31 558.04,109.47 558.38,109.62 558.73,109.78 559.08,109.94 559.42,110.11 559.77,110.28 560.12,110.45 560.47,110.62 560.81,110.8 561.16,110.98 561.51,111.16 561.85,111.35 562.2,111.53 562.55,111.73 562.89,111.92 563.24,112.12 563.59,112.32 563.94,112.53 564.28,112.74 564.63,112.95 564.98,113.16 565.32,113.38 565.67,113.6 566.02,113.83 566.37,114.06 566.71,114.3 567.06,114.53 567.41,114.77 567.75,115.02 568.1,115.27 568.45,115.52 568.79,115.78 569.14,116.04 569.49,116.31 569.84,116.58 570.18,116.85 570.53,117.13 570.88,117.42 571.22,117.71 571.57,118 571.92,118.3 572.26,118.6 572.61,118.91 572.96,119.22 573.31,119.54 573.65,119.86 574,120.19 574.35,120.53 574.69,120.87 575.04,121.21 575.39,121.57 575.73,121.92 576.08,122.29 576.43,122.66 576.77,123.04 577.12,123.42 577.47,123.81 577.82,124.21 578.16,124.61 578.51,125.02 578.86,125.44 579.2,125.87 579.55,126.3 579.9,126.75 580.25,127.2 580.59,127.65 580.94,128.12 581.29,128.6 581.63,129.08 581.98,129.58 582.33,130.08 582.67,130.6 583.02,131.13 583.37,131.66 583.72,132.21 584.06,132.77 584.41,133.34 584.76,133.92 585.1,134.51 585.45,135.12 585.8,135.74 586.14,136.37 586.49,137.02 586.84,137.68 587.19,138.36 587.53,139.06 587.88,139.77 588.23,140.5 588.57,141.25 588.92,142.01 589.27,142.8 589.61,143.6 589.96,144.43 590.31,145.28 590.65,146.15 591,147.05 591.35,147.97 591.7,148.92 592.04,149.9 592.39,150.91 592.74,151.95 593.08,153.02 593.43,154.13 593.78,155.28 594.12,156.47 594.47,157.7 594.82,158.97 595.17,160.3 595.51,161.67 595.86,163.11 596.21,164.6 596.55,166.16 596.9,167.79 597.25,169.5 597.6,171.29 597.94,173.18 598.29,175.17 598.64,177.27 598.98,179.49 599.33,181.86 599.68,184.39 600.02,187.1 600.37,190.02 600.72,193.19 601.07,196.63 601.41,200.42 601.76,204.61 602.11,209.32 602.45,214.66 602.8,220.85 603.15,228.18 603.49,237.18 603.84,248.81 604.88,257.18" fill="none" stroke="#fb0008" stroke-width="1.2" stroke-dasharray="5 3.5"/>
<g><use href="#mk" x="535.13" y="104.33"/><use href="#mk" x="538.08" y="104.49"/><use href="#mk" x="541.03" y="104.78"/><use href="#mk" x="543.98" y="105.21"/><use href="#mk" x="546.93" y="105.8"/><use href="#mk" x="549.88" y="106.54"/><use href="#mk" x="552.83" y="107.44"/><use href="#mk" x="555.78" y="108.52"/><use href="#mk" x="558.73" y="109.78"/><use href="#mk" x="561.68" y="111.25"/><use href="#mk" x="564.63" y="112.95"/><use href="#mk" x="567.58" y="114.9"/><use href="#mk" x="570.53" y="117.13"/><use href="#mk" x="573.48" y="119.7"/><use href="#mk" x="576.43" y="122.66"/><use href="#mk" x="579.38" y="126.08"/><use href="#mk" x="582.33" y="130.08"/><use href="#mk" x="585.28" y="134.81"/><use href="#mk" x="587.6" y="140"/><use href="#mk" x="590.6" y="143.8"/><use href="#mk" x="594.1" y="150.1"/><use href="#mk" x="597.7" y="165.9"/><use href="#mk" x="601.2" y="181.7"/><use href="#mk" x="602.9" y="184.7"/><use href="#mk" x="604.8" y="195"/><use href="#mk" x="608" y="232.1"/></g>
<g><use href="#mb" x="541.6" y="27.5"/><use href="#mb" x="543.7" y="27.5"/><use href="#mb" x="557.9" y="28.1"/><use href="#mb" x="563.9" y="28.3"/><use href="#mb" x="573.7" y="28.9"/><use href="#mb" x="582.2" y="31.3"/><use href="#mb" x="585.7" y="30.8"/><use href="#mb" x="595.8" y="33.8"/><use href="#mb" x="602.9" y="34.6"/><use href="#mb" x="613.2" y="40.9"/><use href="#mb" x="617" y="42.5"/><use href="#mb" x="620.7" y="42"/><use href="#mb" x="624" y="43.6"/><use href="#mb" x="627.5" y="46.9"/><use href="#mb" x="630.8" y="49"/><use href="#mb" x="637.6" y="53.9"/><use href="#mb" x="640.9" y="56.7"/><use href="#mb" x="644.2" y="60.5"/><use href="#mb" x="646.9" y="63.7"/><use href="#mb" x="651.5" y="68.1"/><use href="#mb" x="654.8" y="77.6"/><use href="#mb" x="662.1" y="88"/><use href="#mb" x="665.7" y="89.6"/><use href="#mb" x="675.7" y="171.9"/><use href="#mb" x="679" y="196.7"/></g>
<clipPath id="cc2"><rect x="530" y="90" width="59" height="60"/></clipPath>
<polyline clip-path="url(#cc2)" points="535.13,104.33 535.48,104.34 535.83,104.36 536.18,104.37 536.52,104.39 536.87,104.41 537.22,104.43 537.56,104.45 537.91,104.47 538.26,104.5 538.61,104.53 538.95,104.56 539.3,104.59 539.65,104.62 539.99,104.66 540.34,104.7 540.69,104.74 541.03,104.78 541.38,104.82 541.73,104.87 542.07,104.92 542.42,104.97 542.77,105.02 543.12,105.07 543.46,105.13 543.81,105.18 544.16,105.24 544.5,105.31 544.85,105.37 545.2,105.44 545.54,105.5 545.89,105.58 546.24,105.65 546.59,105.72 546.93,105.8 547.28,105.88 547.63,105.96 547.97,106.04 548.32,106.13 548.67,106.21 549.01,106.3 549.36,106.4 549.71,106.49 550.06,106.59 550.4,106.69 550.75,106.79 551.1,106.89 551.44,107 551.79,107.1 552.14,107.21 552.49,107.33 552.83,107.44 553.18,107.56 553.53,107.68 553.87,107.8 554.22,107.93 554.57,108.05 554.91,108.18 555.26,108.31 555.61,108.45 555.96,108.59 556.3,108.73 556.65,108.87 557,109.02 557.34,109.16 557.69,109.31 558.04,109.47 558.38,109.62 558.73,109.78 559.08,109.94 559.42,110.11 559.77,110.28 560.12,110.45 560.47,110.62 560.81,110.8 561.16,110.98 561.51,111.16 561.85,111.35 562.2,111.53 562.55,111.73 562.89,111.92 563.24,112.12 563.59,112.32 563.94,112.53 564.28,112.74 564.63,112.95 564.98,113.16 565.32,113.38 565.67,113.6 566.02,113.83 566.37,114.06 566.71,114.3 567.06,114.53 567.41,114.77 567.75,115.02 568.1,115.27 568.45,115.52 568.79,115.78 569.14,116.04 569.49,116.31 569.84,116.58 570.18,116.85 570.53,117.13 570.88,117.42 571.22,117.71 571.57,118 571.92,118.3 572.26,118.6 572.61,118.91 572.96,119.22 573.31,119.54 573.65,119.86 574,120.19 574.35,120.53 574.69,120.87 575.04,121.21 575.39,121.57 575.73,121.92 576.08,122.29 576.43,122.66 576.77,123.04 577.12,123.42 577.47,123.81 577.82,124.21 578.16,124.61 578.51,125.02 578.86,125.44 579.2,125.87 579.55,126.3 579.9,126.75 580.25,127.2 580.59,127.65 580.94,128.12 581.29,128.6 581.63,129.08 581.98,129.58 582.33,130.08 582.67,130.6 583.02,131.13 583.37,131.66 583.72,132.21 584.06,132.77 584.41,133.34 584.76,133.92 585.1,134.51 585.45,135.12 585.8,135.74 586.14,136.37 586.49,137.02 586.84,137.68 587.19,138.36 587.53,139.06 587.88,139.77 588.23,140.5 588.57,141.25 588.92,142.01 589.27,142.8 589.61,143.6 589.96,144.43 590.31,145.28 590.65,146.15 591,147.05 591.35,147.97 591.7,148.92 592.04,149.9 592.39,150.91 592.74,151.95 593.08,153.02 593.43,154.13 593.78,155.28 594.12,156.47 594.47,157.7 594.82,158.97 595.17,160.3 595.51,161.67 595.86,163.11 596.21,164.6 596.55,166.16 596.9,167.79 597.25,169.5 597.6,171.29 597.94,173.18 598.29,175.17 598.64,177.27 598.98,179.49 599.33,181.86 599.68,184.39 600.02,187.1 600.37,190.02 600.72,193.19 601.07,196.63 601.41,200.42 601.76,204.61 602.11,209.32 602.45,214.66 602.8,220.85 603.15,228.18 603.49,237.18 603.84,248.81 604.88,257.18" fill="none" stroke="#fb0008" stroke-width="1.2" stroke-dasharray="5 3.5"/>
<rect class="ax" x="529.9" y="18.5" width="154.6" height="231.4"/>
<path class="tk" d="M533.4 249.9v-2.9M533.4 18.5v2.9M568.1 249.9v-2.9M568.1 18.5v2.9M602.8 249.9v-2.9M602.8 18.5v2.9M637.5 249.9v-2.9M637.5 18.5v2.9M672.2 249.9v-2.9M672.2 18.5v2.9M550.75 249.9v-1.6M550.75 18.5v1.6M585.45 249.9v-1.6M585.45 18.5v1.6M620.15 249.9v-1.6M620.15 18.5v1.6M654.85 249.9v-1.6M654.85 18.5v1.6M529.9 205.6h2.9M684.5 205.6h-2.9M529.9 143h2.9M684.5 143h-2.9M529.9 80.4h2.9M684.5 80.4h-2.9M529.9 249.36h1.6M684.5 249.36h-1.6M529.9 238.33h1.6M684.5 238.33h-1.6M529.9 230.51h1.6M684.5 230.51h-1.6M529.9 224.44h1.6M684.5 224.44h-1.6M529.9 219.49h1.6M684.5 219.49h-1.6M529.9 215.3h1.6M684.5 215.3h-1.6M529.9 211.67h1.6M684.5 211.67h-1.6M529.9 208.46h1.6M684.5 208.46h-1.6M529.9 186.76h1.6M684.5 186.76h-1.6M529.9 175.73h1.6M684.5 175.73h-1.6M529.9 167.91h1.6M684.5 167.91h-1.6M529.9 161.84h1.6M684.5 161.84h-1.6M529.9 156.89h1.6M684.5 156.89h-1.6M529.9 152.7h1.6M684.5 152.7h-1.6M529.9 149.07h1.6M684.5 149.07h-1.6M529.9 145.86h1.6M684.5 145.86h-1.6M529.9 124.16h1.6M684.5 124.16h-1.6M529.9 113.13h1.6M684.5 113.13h-1.6M529.9 105.31h1.6M684.5 105.31h-1.6M529.9 99.24h1.6M684.5 99.24h-1.6M529.9 94.29h1.6M684.5 94.29h-1.6M529.9 90.1h1.6M684.5 90.1h-1.6M529.9 86.47h1.6M684.5 86.47h-1.6M529.9 83.26h1.6M684.5 83.26h-1.6M529.9 61.56h1.6M684.5 61.56h-1.6M529.9 50.53h1.6M684.5 50.53h-1.6M529.9 42.71h1.6M684.5 42.71h-1.6M529.9 36.64h1.6M684.5 36.64h-1.6M529.9 31.69h1.6M684.5 31.69h-1.6M529.9 27.5h1.6M684.5 27.5h-1.6M529.9 23.87h1.6M684.5 23.87h-1.6M529.9 20.66h1.6M684.5 20.66h-1.6"/>
<text x="533.4" y="262.6" font-size="11.8" text-anchor="middle">0</text>
<text x="568.1" y="262.6" font-size="11.8" text-anchor="middle">1</text>
<text x="602.8" y="262.6" font-size="11.8" text-anchor="middle">2</text>
<text x="637.5" y="262.6" font-size="11.8" text-anchor="middle">3</text>
<text x="672.2" y="262.6" font-size="11.8" text-anchor="middle">4</text>
<text x="526.6" y="209.8" font-size="11.8" text-anchor="end">1</text>
<text x="526.6" y="147.2" font-size="11.8" text-anchor="end">10</text>
<text x="526.6" y="84.6" font-size="11.8" text-anchor="end">100</text>
<text x="620.3" y="283" font-size="17.2" text-anchor="middle"><tspan font-style="italic">T</tspan><tspan dx="-0.5"> (K)</tspan></text>
<text transform="translate(503,134) rotate(-90)" font-size="17.2" text-anchor="middle"><tspan font-style="italic">I</tspan><tspan font-size="12.5" dy="3.5">sw</tspan><tspan dy="-3.5"> (µA)</tspan></text>
<use href="#mb" x="550.3" y="71.9"/><use href="#mk" x="550.3" y="85"/>
<text x="562.1" y="75.1" font-size="10.4">short bridge</text>
<text x="562.1" y="88.5" font-size="10.4">long bridge</text>
<path d="M534.5 234.3H561.5" stroke="#fb0008" stroke-width="1.2" stroke-dasharray="5 3.5"/>
<text x="566" y="238" font-size="10.8">fit</text>
</g>
<g id="panel-d">
<text x="280.5" y="309" font-size="14" font-weight="bold">d</text>
<path d="M378.5 335.9 Q381.71 347.36 389.2 358.82 L401.4 376.74 L411.4 394.66 L424.2 412.58 L433.4 430.5 L436.4 448.42 L321.4 448.42 L323.7 430.5 L334.2 412.58 L345.4 394.66 L355.1 376.74 L367.4 358.82 Q375.17 347.36 378.5 335.9 Z" fill="#dedede"/>
<path d="M317.9 357.3 L375.8 340.9 L381.2 340.9 L439.4 324.4" fill="none" stroke="#ff3a3a" stroke-width="1.15" stroke-linejoin="round"/>
<path d="M317.9 375.22 L372.5 358.82 L384.5 358.82 L439.4 342.32 M367.4 360.35 L367.4 358.82 L389.2 358.82 L389.2 357.41" fill="none" stroke="#f5923a" stroke-width="1.15" stroke-linejoin="round"/>
<path d="M317.9 393.14 L372.5 376.74 L384.5 376.74 L439.4 360.24 M355.1 381.97 L355.1 376.74 L401.4 376.74 L401.4 371.66" fill="none" stroke="#9be235" stroke-width="1.15" stroke-linejoin="round"/>
<path d="M317.9 411.06 L372.5 394.66 L384.5 394.66 L439.4 378.16 M345.4 402.8 L345.4 394.66 L411.4 394.66 L411.4 386.58" fill="none" stroke="#1fd196" stroke-width="1.15" stroke-linejoin="round"/>
<path d="M317.9 428.98 L372.5 412.58 L384.5 412.58 L439.4 396.08 M334.2 424.08 L334.2 412.58 L424.2 412.58 L424.2 400.65" fill="none" stroke="#19c3d6" stroke-width="1.15" stroke-linejoin="round"/>
<path d="M317.9 446.9 L372.5 430.5 L384.5 430.5 L439.4 414 M323.7 445.16 L323.7 430.5 L433.4 430.5 L433.4 415.8" fill="none" stroke="#2222ff" stroke-width="1.15" stroke-linejoin="round"/>
<path d="M317.9 464.82 L372.5 448.42 L384.5 448.42 L439.4 431.92 M321.4 463.77 L321.4 448.42 L436.4 448.42 L436.4 432.82" fill="none" stroke="#8a2be2" stroke-width="1.15" stroke-linejoin="round"/>
<path d="M435.9 448.4V438" stroke="#000" stroke-width="1.6"/><polygon points="435.9,434.4 438.6,439.4 433.2,439.4" fill="#000"/><path d="M437 431.6L428 433.6" stroke="#000" stroke-width="1.6"/><polygon points="424,434.5 428.32,430.88 429.44,435.95" fill="#000"/>
<rect class="ax" x="301.5" y="317.4" width="154.3" height="154.8"/>
<path class="tk" d="M309.7 472.2v-2.6M309.7 317.4v2.6M378.6 472.2v-2.6M378.6 317.4v2.6M447.6 472.2v-2.6M447.6 317.4v2.6M344.1 472.2v-1.4M344.1 317.4v1.4M413.1 472.2v-1.4M413.1 317.4v1.4M301.5 466.3h2.6M455.8 466.3h-2.6M301.5 454.4h2.6M455.8 454.4h-2.6M301.5 442.5h2.6M455.8 442.5h-2.6M301.5 430.6h2.6M455.8 430.6h-2.6M301.5 418.7h2.6M455.8 418.7h-2.6M301.5 406.8h2.6M455.8 406.8h-2.6M301.5 394.9h2.6M455.8 394.9h-2.6M301.5 383h2.6M455.8 383h-2.6M301.5 371.1h2.6M455.8 371.1h-2.6M301.5 359.2h2.6M455.8 359.2h-2.6M301.5 347.3h2.6M455.8 347.3h-2.6M301.5 335.4h2.6M455.8 335.4h-2.6M301.5 323.5h2.6M455.8 323.5h-2.6M301.5 460.35h1.5M455.8 460.35h-1.5M301.5 448.45h1.5M455.8 448.45h-1.5M301.5 436.55h1.5M455.8 436.55h-1.5M301.5 424.65h1.5M455.8 424.65h-1.5M301.5 412.75h1.5M455.8 412.75h-1.5M301.5 400.85h1.5M455.8 400.85h-1.5M301.5 388.95h1.5M455.8 388.95h-1.5M301.5 377.05h1.5M455.8 377.05h-1.5M301.5 365.15h1.5M455.8 365.15h-1.5M301.5 353.25h1.5M455.8 353.25h-1.5M301.5 341.35h1.5M455.8 341.35h-1.5M301.5 329.45h1.5M455.8 329.45h-1.5"/>
<text x="309.7" y="482.9" font-size="11" text-anchor="middle">-800</text>
<text x="378.6" y="482.9" font-size="11" text-anchor="middle">0</text>
<text x="447.6" y="482.9" font-size="11" text-anchor="middle">800</text>
<text x="364.9" y="508" font-size="17.2"><tspan font-style="italic">I</tspan><tspan dx="-2.7"> (µA)</tspan></text>
<text transform="translate(291,389.4) rotate(-90)" font-size="17.2" font-style="italic" text-anchor="middle">V</text>
<text x="348.7" y="329.8" font-size="10.4">short bridge</text>
<text x="306.9" y="334.7" font-size="9.8"><tspan font-style="italic">T</tspan> (K)</text>
<text x="305.7" y="351.7" font-size="9.8" style="fill:#ff3a3a">4.0</text>
<text x="305.7" y="369.2" font-size="9.8" style="fill:#f5923a">3.5</text>
<text x="305.7" y="386.5" font-size="9.8" style="fill:#9be235">3.0</text>
<text x="305.7" y="404" font-size="9.8" style="fill:#1fd196">2.5</text>
<text x="305.7" y="421" font-size="9.8" style="fill:#19c3d6">2.0</text>
<text x="306.5" y="438.6" font-size="9.8" style="fill:#2222ff">1.5</text>
<text x="309.2" y="456.1" font-size="9.8" style="fill:#8a2be2">1</text>
<text x="399.7" y="360.4" font-size="11.2">30 mV</text>
<path d="M438.7 342.4V359.7" stroke="#000" stroke-width="2"/>
</g>
<g id="panel-e">
<text x="493.2" y="307.8" font-size="14" font-weight="bold">e</text>
<path d="M607.3 339.8 Q611.12 352.22 616.4 364.64 L629.7 384.88 L644.4 405.12 L657.7 425.36 L664.5 445.6 L550.6 445.6 L556.7 425.36 L570.1 405.12 L584.8 384.88 L598.4 364.64 Q603.56 352.22 607.3 339.8 Z" fill="#dedede"/>
<path d="M540.6 364.4 L605.23 344.4 L609.37 344.4 L674 324.3" fill="none" stroke="#ff3a3a" stroke-width="1.15" stroke-linejoin="round"/>
<path d="M540.6 384.64 L602.7 364.64 L611.9 364.64 L674 344.54 M598.4 366.02 L598.4 364.64 L616.4 364.64 L616.4 363.18" fill="none" stroke="#f5923a" stroke-width="1.15" stroke-linejoin="round"/>
<path d="M540.6 404.88 L602.7 384.88 L611.9 384.88 L674 364.78 M584.8 390.64 L584.8 384.88 L629.7 384.88 L629.7 379.12" fill="none" stroke="#9be235" stroke-width="1.15" stroke-linejoin="round"/>
<path d="M540.6 425.12 L602.7 405.12 L611.9 405.12 L674 385.02 M570.1 415.62 L570.1 405.12 L644.4 405.12 L644.4 394.6" fill="none" stroke="#2bd198" stroke-width="1.15" stroke-linejoin="round"/>
<path d="M540.6 445.36 L602.7 425.36 L611.9 425.36 L674 405.26 M556.7 440.17 L556.7 425.36 L657.7 425.36 L657.7 410.54" fill="none" stroke="#1e9bff" stroke-width="1.15" stroke-linejoin="round"/>
<path d="M540.6 465.6 L602.7 445.6 L611.9 445.6 L674 425.5 M550.6 462.38 L550.6 445.6 L664.5 445.6 L664.5 428.57" fill="none" stroke="#7d1fd6" stroke-width="1.15" stroke-linejoin="round"/>

<rect class="ax" x="530" y="317.4" width="154.5" height="154.8"/>
<path class="tk" d="M539.9 472.2v-2.6M539.9 317.4v2.6M607.3 472.2v-2.6M607.3 317.4v2.6M674.7 472.2v-2.6M674.7 317.4v2.6M573.6 472.2v-1.4M573.6 317.4v1.4M641 472.2v-1.4M641 317.4v1.4M530 323.78h2.6M684.5 323.78h-2.6M530 337.3h2.6M684.5 337.3h-2.6M530 350.82h2.6M684.5 350.82h-2.6M530 364.34h2.6M684.5 364.34h-2.6M530 377.86h2.6M684.5 377.86h-2.6M530 391.38h2.6M684.5 391.38h-2.6M530 404.9h2.6M684.5 404.9h-2.6M530 418.42h2.6M684.5 418.42h-2.6M530 431.94h2.6M684.5 431.94h-2.6M530 445.46h2.6M684.5 445.46h-2.6M530 458.98h2.6M684.5 458.98h-2.6M530 330.54h1.5M684.5 330.54h-1.5M530 344.06h1.5M684.5 344.06h-1.5M530 357.58h1.5M684.5 357.58h-1.5M530 371.1h1.5M684.5 371.1h-1.5M530 384.62h1.5M684.5 384.62h-1.5M530 398.14h1.5M684.5 398.14h-1.5M530 411.66h1.5M684.5 411.66h-1.5M530 425.18h1.5M684.5 425.18h-1.5M530 438.7h1.5M684.5 438.7h-1.5M530 452.22h1.5M684.5 452.22h-1.5M530 465.74h1.5M684.5 465.74h-1.5"/>
<text x="539.9" y="482.9" font-size="11" text-anchor="middle">-50</text>
<text x="607.3" y="482.9" font-size="11" text-anchor="middle">0</text>
<text x="674.7" y="482.9" font-size="11" text-anchor="middle">50</text>
<text x="592.1" y="507.8" font-size="17.2"><tspan font-style="italic">I</tspan><tspan dx="-2.7"> (µA)</tspan></text>
<text transform="translate(525,391.6) rotate(-90)" font-size="17.2" font-style="italic" text-anchor="middle">V</text>
<text x="581.3" y="330.5" font-size="10.4">long bridge</text>
<text x="535.2" y="337.9" font-size="9.8"><tspan font-style="italic">T</tspan> (K)</text>
<text x="534" y="357.6" font-size="9.8" style="fill:#ff3a3a">2.2</text>
<text x="534" y="377.4" font-size="9.8" style="fill:#f5923a">1.8</text>
<text x="534" y="397" font-size="9.8" style="fill:#9be235">1.4</text>
<text x="534" y="416.9" font-size="9.8" style="fill:#2bd198">1.0</text>
<text x="534" y="436" font-size="9.8" style="fill:#1e9bff">0.6</text>
<text x="531.5" y="455.8" font-size="9.8" style="fill:#7d1fd6">0.05</text>
<text x="635" y="365" font-size="11.2">15 mV</text>
<path d="M673.6 344V362.7" stroke="#000" stroke-width="2"/>
</g>
</svg>
</body></html>
